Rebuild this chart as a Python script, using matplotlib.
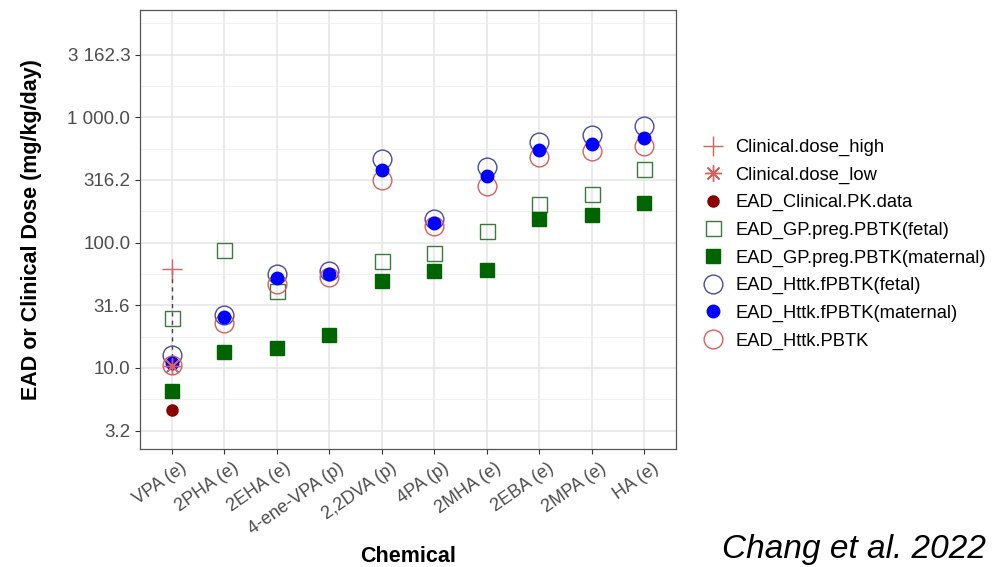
import numpy as np
import matplotlib
matplotlib.use("Agg")
import matplotlib.pyplot as plt
from matplotlib.lines import Line2D

plt.rcParams['font.family'] = ['Liberation Sans', 'DejaVu Sans']

chemicals = ["VPA (e)", "2PHA (e)", "2EHA (e)", "4-ene-VPA (p)", "2,2DVA (p)",
             "4PA (p)", "2MHA (e)", "2EBA (e)", "2MPA (e)", "HA (e)"]
nan = np.nan
clinical_high = [61, nan, nan, nan, nan, nan, nan, nan, nan, nan]
clinical_low = [10.3, nan, nan, nan, nan, nan, nan, nan, nan, nan]
clinical_pk = [4.6, nan, nan, nan, nan, nan, nan, nan, nan, nan]
gp_fetal = [24.8, 88, 41, nan, 71, 82, 124, 204, 243, 385]
gp_maternal = [6.5, 13.3, 14.4, 18.3, 49, 59, 60, 155, 167, 207]
httk_fetal = [12.7, 26.4, 55.7, 59, 462, 154, 399, 637, 719, 849]
httk_maternal = [11.0, 25.3, 51.8, 56.4, 379, 143, 340, 547, 607, 678]
httk_pbtk = [10.6, 23, 46.4, 53.5, 316, 135, 283, 479, 537, 589]

ytick_vals = [3.16228, 10, 31.6228, 100, 316.228, 1000, 3162.28]
ytick_labels = ["3.2", "10.0", "31.6", "100.0", "316.2", "1 000.0", "3 162.3"]
minor_vals = [5.6234, 17.783, 56.234, 177.83, 562.34, 1778.3, 5623.4]

fig = plt.figure(figsize=(9.96, 5.67), dpi=100)
ax = fig.add_axes([140/996, 1-449/567, (676-140)/996, (449-10)/567])

x = np.arange(len(chemicals))

ax.set_yscale('log')
ax.set_yticks(ytick_vals)
ax.set_yticklabels(ytick_labels)
ax.set_yticks(minor_vals, minor=True)
ax.yaxis.set_minor_formatter(matplotlib.ticker.NullFormatter())
ax.tick_params(axis='y', which='minor', length=0)
ax.grid(True, which='major', color='#E6E6E6', linewidth=1.1, zorder=0)
ax.grid(True, which='minor', axis='y', color='#EFEFEF', linewidth=0.6, zorder=0)
ax.set_axisbelow(True)
ax.set_xticks(x)
ax.set_xticklabels(chemicals, rotation=35, ha='right', va='top', rotation_mode='anchor')
ax.tick_params(axis='both', which='major', length=3.5, width=0.8, color='#333333',
               labelcolor='#4D4D4D')
ax.tick_params(axis='y', which='major', labelsize=13.5)
ax.tick_params(axis='x', which='major', labelsize=13, pad=4)
for lab in ax.get_xticklabels():
    lab.set_transform(lab.get_transform() + matplotlib.transforms.ScaledTranslation(8/100, 0, fig.dpi_scale_trans))
for s in ax.spines.values():
    s.set_color('#555555')
    s.set_linewidth(0.9)

# dashed connector between clinical high and low
ax.vlines(x, clinical_low, clinical_high, colors='#444444', linestyles=(0, (3, 3)), linewidth=1.0, zorder=2)

red = '#D9605A'
ax.plot(x, gp_fetal, ls='none', marker='s', ms=10.8, mfc='none', mec='#3D7A3D', mew=1.0, zorder=3)
ax.plot(x, gp_maternal, ls='none', marker='s', ms=10.3, mfc='#006400', mec='#006400', zorder=3)
ax.plot(x, httk_fetal, ls='none', marker='o', ms=13.5, mfc='none', mec='#4A4AA8', mew=1.0, zorder=4)
ax.plot(x, httk_pbtk, ls='none', marker='o', ms=13.5, mfc='none', mec=red, mew=1.0, zorder=4)
ax.plot(x, httk_maternal, ls='none', marker='o', ms=9, mfc='#0000FF', mec='#0000FF', zorder=5)
ax.plot(x, clinical_pk, ls='none', marker='o', ms=8, mfc='#8B0000', mec='#8B0000', zorder=5)
ax.plot(x, clinical_high, ls='none', marker='+', ms=15, mec=red, mew=1.0, zorder=6)
ax.plot(x, clinical_low, ls='none', marker=(8, 2, 0), ms=12, mec=red, mew=1.0, zorder=6)

ax.set_xlim(-0.6, len(chemicals) - 0.4)
ax.set_ylim(10**0.353, 10**3.856)

ax.set_ylabel("EAD or Clinical Dose (mg/kg/day)", fontsize=15.5, fontweight='bold')
ax.yaxis.set_label_coords((42 - 140) / 536, 0.5)
fig.text(408/996, 1-556/567, "Chemical", fontsize=15.5, fontweight='bold', ha='center', va='center')

handles = [
    Line2D([], [], ls='none', marker='+', ms=15, mec=red, mew=1.0),
    Line2D([], [], ls='none', marker=(8, 2, 0), ms=12, mec=red, mew=1.0),
    Line2D([], [], ls='none', marker='o', ms=8, mfc='#8B0000', mec='#8B0000'),
    Line2D([], [], ls='none', marker='s', ms=10.8, mfc='none', mec='#3D7A3D', mew=1.0),
    Line2D([], [], ls='none', marker='s', ms=10.3, mfc='#006400', mec='#006400'),
    Line2D([], [], ls='none', marker='o', ms=13.5, mfc='none', mec='#4A4AA8', mew=1.0),
    Line2D([], [], ls='none', marker='o', ms=9, mfc='#0000FF', mec='#0000FF'),
    Line2D([], [], ls='none', marker='o', ms=13.5, mfc='none', mec=red, mew=1.0),
]
labels = ["Clinical.dose_high", "Clinical.dose_low", "EAD_Clinical.PK.data",
          "EAD_GP.preg.PBTK(fetal)", "EAD_GP.preg.PBTK(maternal)",
          "EAD_Httk.fPBTK(fetal)", "EAD_Httk.fPBTK(maternal)", "EAD_Httk.PBTK"]
fig.legend(handles, labels, loc='upper left', bbox_to_anchor=(702/996, 1-139/567),
           frameon=False, fontsize=13.2, handlelength=1.2, handletextpad=0.6,
           labelspacing=0.57, borderaxespad=0, borderpad=0)

fig.text(722/996, 1-565/567, "Chang et al. 2022", fontsize=24, style='italic', ha='left', va='bottom')

fig.savefig("out.png", dpi=100)
